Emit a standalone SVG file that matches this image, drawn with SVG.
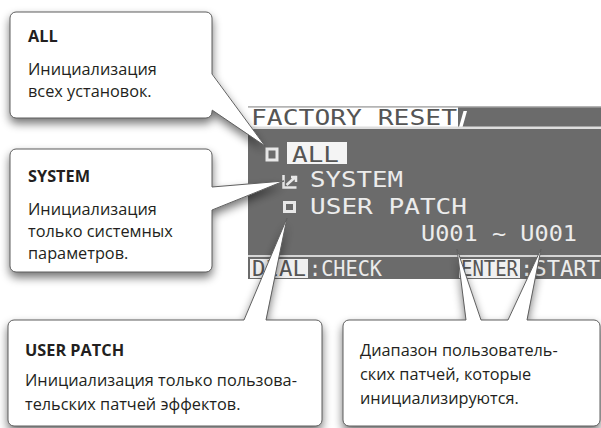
<svg xmlns="http://www.w3.org/2000/svg" xmlns:xlink="http://www.w3.org/1999/xlink" width="601" height="428" viewBox="0 0 601 428">
<defs>
<style>
.t { font-family: "Open Sans", "Noto Sans", sans-serif; font-size: 16.3px; fill: #231f20; }
.b { font-weight: 700; }
.box { fill: #ffffff; stroke: #5f5f5f; stroke-width: 1; }
.wf { fill: #ffffff; }
.wl { fill: none; stroke: #5f5f5f; stroke-width: 1; stroke-linejoin: round; }
.lcd { font-family: "DejaVu Sans Mono", "Liberation Mono", monospace; font-size: 21px; fill: #ececec; }
.lcdd { font-family: "DejaVu Sans Mono", "Liberation Mono", monospace; font-size: 21px; fill: #555555; }
.ck { fill: #6b6b6b; stroke: #e8e8e8; stroke-width: 3; }
</style>
<filter id="sh" x="-20%" y="-20%" width="140%" height="150%">
<feGaussianBlur in="SourceAlpha" stdDeviation="5"/>
<feOffset dx="0" dy="5" result="o"/>
<feComponentTransfer><feFuncA type="linear" slope="0.55"/></feComponentTransfer>
</filter>
</defs>
<rect width="601" height="428" fill="#ffffff"/>

<g id="lcd-screen">
<rect x="248" y="106" width="353" height="173" fill="#6b6b6b"/>
<rect x="248" y="106" width="353" height="1.5" fill="#b4b4b4"/>
<rect x="248" y="107.5" width="210" height="19.5" fill="#ffffff"/>
<polygon points="459,127 462.5,127 467,111 463.5,111" fill="#ffffff"/>
<rect x="248" y="126.5" width="353" height="2.5" fill="#dedede"/>
<text class="lcdd" x="251" y="125" textLength="206" lengthAdjust="spacingAndGlyphs">FACTORY RESET</text>
<rect class="ck" x="267" y="149" width="10" height="11"/>
<rect x="287" y="142" width="60" height="22" fill="#f4f4f4"/>
<text class="lcdd" x="292" y="162" font-size="23" textLength="47" lengthAdjust="spacingAndGlyphs">ALL</text>
<path d="M283.5,175 V187.5 H296.5 M286.5,185 L296,176.5 M291,177 H296 V182" fill="none" stroke="#e8e8e8" stroke-width="2.5"/>
<text class="lcd" x="310" y="187" textLength="93" lengthAdjust="spacingAndGlyphs">SYSTEM</text>
<rect class="ck" x="284.5" y="202.5" width="10" height="9"/>
<text class="lcd" x="310" y="214" textLength="157" lengthAdjust="spacingAndGlyphs">USER PATCH</text>
<text class="lcd" x="421" y="241" textLength="156" lengthAdjust="spacingAndGlyphs">U001 ~ U001</text>
<rect x="248" y="255" width="353" height="2" fill="#d6d6d6"/>
<rect x="250" y="259" width="58" height="19" fill="#f0f0f0"/>
<text class="lcdd" x="252" y="276" font-size="20" textLength="54" lengthAdjust="spacingAndGlyphs">DIAL</text>
<text class="lcd" x="309" y="276" font-size="20" textLength="73" lengthAdjust="spacingAndGlyphs">:CHECK</text>
<rect x="459" y="259" width="61" height="19" fill="#f0f0f0"/>
<text class="lcdd" x="461" y="276" font-size="20" textLength="57" lengthAdjust="spacingAndGlyphs">ENTER</text>
<text class="lcd" x="520" y="276" font-size="20" textLength="80" lengthAdjust="spacingAndGlyphs">:START</text>
</g>

<g id="shadows" filter="url(#sh)">
<use xlink:href="#all-box"/>
<use xlink:href="#system-box"/>
<use xlink:href="#userpatch-box"/>
<use xlink:href="#range-box"/>
<use xlink:href="#w-all-f"/>
<use xlink:href="#w-system-f"/>
<use xlink:href="#w-userpatch-f"/>
<use xlink:href="#w-range1-f"/>
<use xlink:href="#w-range2-f"/>
</g>

<g id="node-all">
<rect id="all-box" class="box" x="10" y="12" width="202" height="106" rx="6"/>
<text class="t b" x="28" y="42">ALL</text>
<text class="t" x="28" y="75">Инициализация</text>
<text class="t" x="28" y="97">всех установок.</text>
</g>

<g id="node-system">
<rect id="system-box" class="box" x="10" y="149" width="202" height="123" rx="6"/>
<text class="t b" x="28" y="182">SYSTEM</text>
<text class="t" x="28" y="215">Инициализация</text>
<text class="t" x="28" y="237">только системных</text>
<text class="t" x="28" y="259">параметров.</text>
</g>

<g id="node-userpatch">
<rect id="userpatch-box" class="box" x="8" y="320" width="314" height="106" rx="6"/>
<text class="t b" x="25" y="356">USER PATCH</text>
<text class="t" x="25" y="386">Инициализация только пользова-</text>
<text class="t" x="25" y="410">тельских патчей эффектов.</text>
</g>

<g id="node-range">
<rect id="range-box" class="box" x="343" y="320" width="257" height="106" rx="6"/>
<text class="t" x="360" y="356">Диапазон пользователь-</text>
<text class="t" x="360" y="380">ских патчей, которые</text>
<text class="t" x="360" y="404">инициализируются.</text>
</g>

<g id="connectors">
<polygon id="w-all-f" class="wf" points="207,74 212.7,74 265,146 212.7,110.4 207,110.4"/>
<polyline class="wl" points="212,74 265,146 212,110"/>
<polygon id="w-system-f" class="wf" points="207,187 212.7,187 284,181 212.7,210 207,210"/>
<polyline class="wl" points="212,187 284,181 212,210"/>
<polygon id="w-userpatch-f" class="wf" points="244,325 244,319.3 287,218 266,319.3 266,325"/>
<polyline class="wl" points="244,320 287,218 266,320"/>
<polygon id="w-range1-f" class="wf" points="466,325 466,319.3 457,249 481,319.3 481,325"/>
<polyline class="wl" points="466,320 457,249 481,320"/>
<polygon id="w-range2-f" class="wf" points="508,325 508,319.3 541,249 527,319.3 527,325"/>
<polyline class="wl" points="508,320 541,249 527,320"/>
</g>
</svg>
